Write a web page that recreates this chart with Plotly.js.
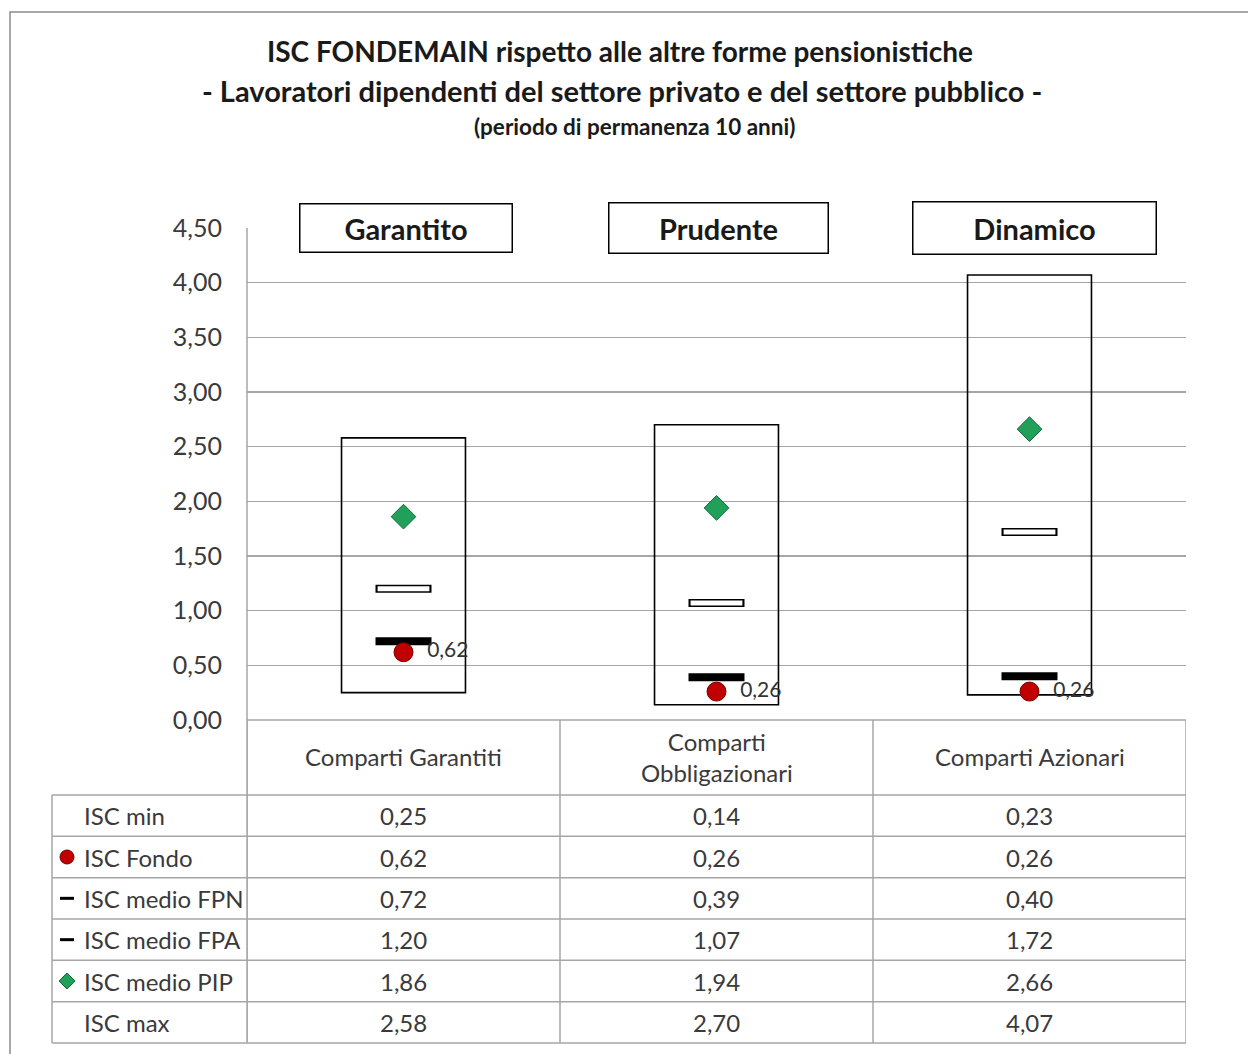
<!DOCTYPE html>
<html>
<head>
<meta charset="utf-8">
<script src="https://cdn.plot.ly/plotly-3.0.1.min.js"></script>
<style>html,body{margin:0;padding:0;background:#fff;}#chart{width:1248px;height:1054px;}</style>
</head>
<body>
<div id="chart"></div>
<script>
// ---- data ----
const categories = ['Comparti Garantiti', 'Comparti<br>Obbligazionari', 'Comparti Azionari'];
const profiles = ['Garantito', 'Prudente', 'Dinamico'];
const iscMin = [0.25, 0.14, 0.23];
const iscFondo = [0.62, 0.26, 0.26];
const iscFPN = [0.72, 0.39, 0.40];
const iscFPA = [1.20, 1.07, 1.72];
const iscPIP = [1.86, 1.94, 2.66];
const iscMax = [2.58, 2.70, 4.07];
const rowLabels = ['ISC min', 'ISC Fondo', 'ISC medio FPN', 'ISC medio FPA', 'ISC medio PIP', 'ISC max'];
const rowValues = [iscMin, iscFondo, iscFPN, iscFPA, iscPIP, iscMax];
const yTicks = [0, 0.5, 1, 1.5, 2, 2.5, 3, 3.5, 4, 4.5];

// ---- helpers ----
const W = 1248, H = 1054;
const PX = x => x / W;
const PY = y => 1 - y / H;
const fmt = v => v.toFixed(2).replace('.', ',');
const xs = categories.map((c, i) => i);
const FONT = 'Lato, "Open Sans", sans-serif';
const TXT = '#3a3a3a';
const GRID = '#a6a6a6';

// ---- traces ----
const traces = [];
traces.push({
  type: 'bar', x: xs, base: iscMin, y: iscMax.map((v, i) => v - iscMin[i]),
  width: 0.396, marker: {color: 'rgba(0,0,0,0)', line: {color: '#000', width: 1.6}},
  hoverinfo: 'skip', showlegend: false
});
// FPA: white rectangle with black outline
traces.push({type: 'scatter', mode: 'markers', x: xs, y: iscFPA,
  marker: {symbol: 'line-ew', size: 40, color: '#000', line: {color: '#000', width: 8}}, showlegend: false, cliponaxis: false});
traces.push({type: 'scatter', mode: 'markers', x: xs, y: iscFPA,
  marker: {symbol: 'line-ew', size: 37, color: '#fff', line: {color: '#fff', width: 5}}, showlegend: false, cliponaxis: false});
// FPN: black bar
traces.push({type: 'scatter', mode: 'markers', x: xs, y: iscFPN,
  marker: {symbol: 'line-ew', size: 40, color: '#000', line: {color: '#000', width: 8}}, showlegend: false, cliponaxis: false});
// PIP: green diamond
traces.push({type: 'scatter', mode: 'markers', x: xs, y: iscPIP,
  marker: {symbol: 'diamond', size: 19, color: '#21a05a', line: {color: '#146b3a', width: 1}}, showlegend: false, cliponaxis: false});
// Fondo: red circle with label
traces.push({type: 'scatter', mode: 'markers+text', x: xs, y: iscFondo,
  text: iscFondo.map(v => '\u00a0\u00a0' + fmt(v)), textposition: 'middle right',
  textfont: {family: FONT, size: 21, color: '#333'},
  marker: {symbol: 'circle', size: 19, color: '#c00000', line: {color: '#7a0000', width: 1}}, showlegend: false, cliponaxis: false});

// ---- shapes ----
const shapes = [];
// outer frame
shapes.push({type: 'rect', xref: 'paper', yref: 'paper', x0: PX(10), x1: PX(1262), y0: PY(12), y1: PY(1070),
  line: {color: '#8c8c8c', width: 1.5}, fillcolor: 'rgba(0,0,0,0)', layer: 'below'});
// table
const tTop = 720, hdrBottom = 795, tBottom = 1043, tLeft = 52;
const rowH = (tBottom - hdrBottom) / rowLabels.length;
shapes.push({type: 'line', xref: 'paper', yref: 'paper', x0: PX(247), x1: PX(247), y0: PY(228), y1: PY(tBottom), line: {color: GRID, width: 1.5}});
for (let b = 0; b <= categories.length; b++) {
  shapes.push({type: 'line', xref: 'x', yref: 'paper', x0: b - 0.5, x1: b - 0.5, y0: PY(tTop), y1: PY(tBottom), line: {color: GRID, width: 1.5}});
}
shapes.push({type: 'line', xref: 'paper', yref: 'paper', x0: PX(tLeft), x1: PX(tLeft), y0: PY(hdrBottom), y1: PY(tBottom), line: {color: GRID, width: 1.5}});
for (let r = 0; r <= rowLabels.length; r++) {
  const yy = hdrBottom + r * rowH;
  shapes.push({type: 'line', xref: 'paper', yref: 'paper', x0: PX(tLeft), x1: PX(1186), y0: PY(yy), y1: PY(yy), line: {color: GRID, width: 1.5}});
}
shapes.push({type: 'line', xref: 'paper', yref: 'paper', x0: PX(247), x1: PX(1186), y0: PY(tTop), y1: PY(tTop), line: {color: GRID, width: 1.5}});

// legend keys in table
const rc = r => hdrBottom + (r + 0.5) * rowH;
shapes.push({type: 'circle', xref: 'paper', yref: 'paper', x0: PX(60), x1: PX(74), y0: PY(rc(1) - 7), y1: PY(rc(1) + 7),
  fillcolor: '#c00000', line: {color: '#7a0000', width: 1}});
[2, 3].forEach(r => shapes.push({type: 'rect', xref: 'paper', yref: 'paper', x0: PX(60), x1: PX(74), y0: PY(rc(r) - 1.5), y1: PY(rc(r) + 1.5),
  fillcolor: '#000', line: {width: 0}}));
{
  const cx = 67, cy = rc(4), d = 8;
  shapes.push({type: 'path', xref: 'paper', yref: 'paper',
    path: `M ${PX(cx - d)} ${PY(cy)} L ${PX(cx)} ${PY(cy - d)} L ${PX(cx + d)} ${PY(cy)} L ${PX(cx)} ${PY(cy + d)} Z`,
    fillcolor: '#21a05a', line: {color: '#146b3a', width: 1}});
}

// ---- annotations ----
const ann = [];
ann.push({xref: 'paper', yref: 'paper', x: PX(622), y: PY(91), xanchor: 'center', yanchor: 'middle', showarrow: false,
  text: '<b>- Lavoratori dipendenti del settore privato e del settore pubblico -</b>', font: {family: FONT, size: 29, color: '#1a1a1a'}});
ann.push({xref: 'paper', yref: 'paper', x: PX(634), y: PY(127), xanchor: 'center', yanchor: 'middle', showarrow: false,
  text: '<b>(periodo di permanenza 10 anni)</b>', font: {family: FONT, size: 22.5, color: '#1a1a1a'}});
const boxW = [211, 218, 242], boxH = [47, 49, 51], boxShift = [2, 2, 5];
profiles.forEach((p, i) => ann.push({xref: 'x', yref: 'y', x: i, y: 4.5, xshift: boxShift[i], xanchor: 'center', yanchor: 'middle', showarrow: false,
  text: '<b>' + p + '</b>', font: {family: FONT, size: 29, color: '#1a1a1a'},
  bgcolor: '#fff', bordercolor: '#000', borderwidth: 1.5, borderpad: 0, width: boxW[i], height: boxH[i]}));
categories.forEach((c, i) => ann.push({xref: 'x', yref: 'paper', x: i, y: PY((tTop + hdrBottom) / 2 - 1), xanchor: 'center', yanchor: 'middle',
  showarrow: false, text: c, font: {family: FONT, size: 24, color: TXT}}));
rowLabels.forEach((l, r) => {
  ann.push({xref: 'paper', yref: 'paper', x: PX(82), y: PY(rc(r)), xanchor: 'left', yanchor: 'middle', showarrow: false,
    text: l, font: {family: FONT, size: 24, color: TXT}});
  rowValues[r].forEach((v, i) => ann.push({xref: 'x', yref: 'paper', x: i, y: PY(rc(r)), xanchor: 'center', yanchor: 'middle', showarrow: false,
    text: fmt(v), font: {family: FONT, size: 24, color: TXT}}));
});

const layout = {
  width: W, height: H, margin: {l: 0, r: 0, t: 0, b: 0},
  paper_bgcolor: '#fff', plot_bgcolor: 'rgba(0,0,0,0)',
  separators: ',.',
  barmode: 'overlay',
  title: {text: '<b>ISC FONDEMAIN rispetto alle altre forme pensionistiche</b>', x: PX(620), xanchor: 'center',
    y: PY(52), yanchor: 'middle', yref: 'container', font: {family: FONT, size: 28, color: '#1a1a1a'}},
  xaxis: {domain: [PX(247), PX(1186)], range: [-0.5, 2.5], showticklabels: false, showgrid: false, zeroline: false,
    showline: false, fixedrange: true},
  yaxis: {domain: [PY(720), PY(228)], range: [0, 4.5], tickvals: yTicks, tickformat: '.2f', ticks: '',
    ticklabelstandoff: 24, showgrid: true, gridcolor: GRID, gridwidth: 1.3, zeroline: false, showline: false,
    tickfont: {family: FONT, size: 25, color: TXT}, fixedrange: true},
  shapes: shapes, annotations: ann, font: {family: FONT}
};
Plotly.newPlot('chart', traces, layout, {staticPlot: true, displayModeBar: false});
</script>
</body>
</html>
